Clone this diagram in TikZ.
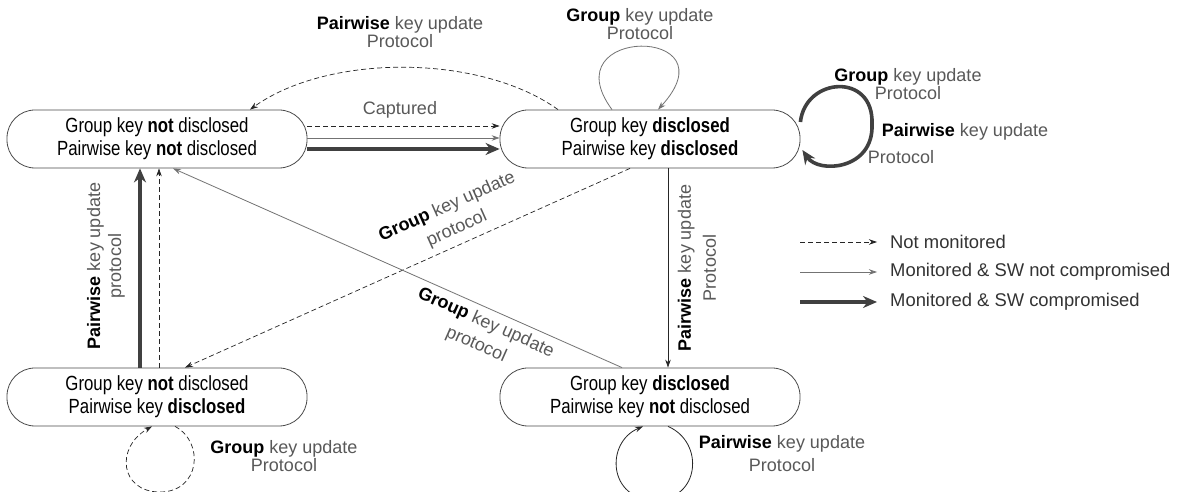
\documentclass[tikz,border=0pt]{standalone}
\usepackage{fontspec}
\setmainfont{Liberation Sans}
\newfontfamily\narrowfont[FakeStretch=0.82]{Liberation Sans}
\usetikzlibrary{arrows.meta}
\newcommand{\kw}[1]{\textbf{\color{black}#1}}
\begin{document}
\begin{tikzpicture}[x=1pt,y=1pt,
  statebox/.style={draw=black!70, line width=0.8pt, rounded corners=28pt,
    minimum width=300pt, minimum height=58pt, align=center, fill=white,
    inner sep=0pt, font=\narrowfont\fontsize{20.5}{23}\selectfont},
  lbl/.style={inner sep=0pt, align=center, text=black!65, font=\fontsize{18}{18}\selectfont},
  notmon/.style={draw=black!85, line width=0.7pt, dash pattern=on 5pt off 3pt,
    -{Stealth[length=8pt,width=5.5pt]}},
  mon/.style={draw=black!55, line width=0.8pt, -{Stealth[length=8pt,width=5.5pt]}},
  comp/.style={draw=black!75, line width=3.6pt, -{Stealth[length=14pt,width=12pt]}},
  legtext/.style={anchor=west, inner sep=0pt, text=black!80,
    font=\fontsize{18.4}{20}\selectfont}
]
\fill[white] (0,0) rectangle (1184,492);
\useasboundingbox (0,0) rectangle (1184,492);

% states
\node[statebox] (A) at (157,353) {Group key \textbf{not} disclosed\\Pairwise key \textbf{not} disclosed};
\node[statebox] (B) at (650,353) {Group key \textbf{disclosed}\\Pairwise key \textbf{disclosed}};
\node[statebox] (C) at (157,95) {Group key \textbf{not} disclosed\\Pairwise key \textbf{disclosed}};
\node[statebox] (D) at (650,95) {Group key \textbf{disclosed}\\Pairwise key \textbf{not} disclosed};

% A -> B (captured)
\draw[notmon] ([yshift=13pt]A.east) -- ([yshift=13pt]B.west);
\draw[mon] ([yshift=1pt]A.east) -- ([yshift=1pt]B.west);
\draw[comp] ([yshift=-10pt]A.east) -- ([yshift=-10pt]B.west);
\node[lbl] (cap) at (400,382) {Captured};

% B -> A curved
\draw[notmon] ([xshift=-92pt]B.north) .. controls +(-78,56) and +(78,56) .. ([xshift=93pt]A.north);
\node[lbl] (l1) at (400,460) {\kw{Pairwise} key update\\Protocol};

% B top self loop
\draw[mon] ([xshift=-38pt]B.north) .. controls +(-62,84) and +(77,84) .. ([xshift=8pt]B.north);
\node[lbl] (l2) at (640,468) {\kw{Group} key update\\Protocol};

% B right self loop
\coordinate (rl) at (872,368);
\draw[comp] ([yshift=17pt]B.east) .. controls +(5,45) and +(2,52) .. (rl)
  .. controls +(2,-46) and +(16,-24) .. ([xshift=2pt,yshift=-11pt]B.east);
\node[lbl] (l3a) at (908,408) {\kw{Group} key update\\Protocol};
\node[lbl] (l3c) at (965,360) {\kw{Pairwise} key update};
\node[lbl] (l3d) at (901,335) {Protocol};

% B -> D
\draw[mon, draw=black!85] ([xshift=18pt]B.south) -- ([xshift=18pt]D.north);
\node[lbl, rotate=90] (l4) at (697,224) {\kw{Pairwise} key update\\[7pt]Protocol};

% B -> C
\draw[notmon] ([xshift=-20pt]B.south) -- ([xshift=28pt]C.north);
\node[lbl, rotate=24] (l5) at (452,274) {\kw{Group} key update\\[6pt]protocol};

% D -> A
\draw[mon] ([xshift=-28pt]D.north) -- ([xshift=16pt]A.south);
\node[lbl, rotate=-24] (l6) at (481,158) {\kw{Group} key update\\[6pt]protocol};

% C -> A
\draw[comp] ([xshift=-17pt]C.north) -- ([xshift=-17pt]A.south);
\draw[notmon] ([xshift=2pt]C.north) -- ([xshift=2pt]A.south);
\node[lbl, rotate=90] (l7) at (106,226) {\kw{Pairwise} key update\\[3pt]protocol};

% C self loop
\coordinate (cl) at (160,0);
\draw[notmon] ([xshift=18pt]C.south) .. controls +(30,-16) and +(40,0) .. (cl)
  .. controls +(-40,0) and +(-37,-21) .. ([xshift=-5pt]C.south);
\node[lbl] (l8) at (284,36) {\kw{Group} key update\\Protocol};

% D self loop
\coordinate (dl) at (655,-8);
\draw[mon, draw=black!85] ([xshift=18pt]D.south) .. controls +(37,-16) and +(45,0) .. (dl)
  .. controls +(-47,0) and +(-38,-16) .. ([xshift=-7pt]D.south);
\node[lbl] (l9) at (782,38) {\kw{Pairwise} key update\\[5pt]Protocol};

% legend
\coordinate (g1s) at (800,250); \coordinate (g1e) at (877,250);
\coordinate (g2s) at (800,220); \coordinate (g2e) at (877,220);
\coordinate (g3s) at (800,190); \coordinate (g3e) at (877,190);
\draw[notmon] (g1s) -- (g1e);
\draw[mon] (g2s) -- (g2e);
\draw[comp] (g3s) -- (g3e);
\node[legtext] (t1) at (890,250) {Not monitored};
\node[legtext] (t2) at (890,220) {Monitored \& SW not compromised};
\node[legtext] (t3) at (890,190) {Monitored \& SW compromised};
\end{tikzpicture}
\end{document}
